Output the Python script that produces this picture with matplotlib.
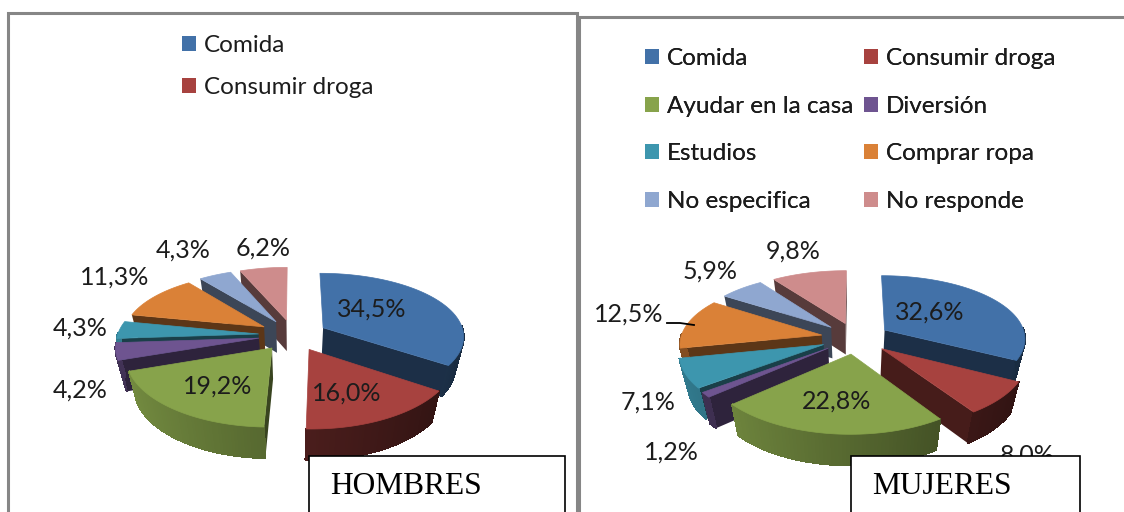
import numpy as np
import matplotlib
matplotlib.use('Agg')
import matplotlib.pyplot as plt
from matplotlib.patches import Patch, Polygon, Rectangle

### Data
categories = ['Comida', 'Consumir droga', 'Ayudar en la casa', 'Diversión',
              'Estudios', 'Comprar ropa', 'No especifica', 'No responde']
hombres = [34.5, 16.0, 19.2, 4.2, 4.3, 11.3, 4.3, 6.2]
mujeres = [32.6, 8.0, 22.8, 1.2, 7.1, 12.5, 5.9, 9.8]
colors = ['#4271a8', '#a7423f', '#87a34b', '#6e5490',
          '#3d96ae', '#da8137', '#8fa7d0', '#ce8c8c']
rim_gain = [1.1, 0.8, 1.15, 0.8, 1.1, 0.8, 0.8, 0.8]

### Layout of the percent labels, in pixels
pos_hombres = [(372, 309), (347, 393), (218, 386), (80, 390),
               (80, 328), (115, 277), (183, 250), (263, 248)]
pos_mujeres = [(930, 312), (1027, 455), (837, 401), (671, 452),
               (648, 402), (629, 314), (710, 271), (793, 251)]

FONT = 'Lato'
RX = 141.0
RY = 64.0
PERSP = 0.14
PERSP_X = 0.12
DEPTH = 31.0
EXPLODE = 0.245


def project(cx, cy, x, y, z=0.0):
    return (cx + RX * x / (1.0 + PERSP_X * y) * (1.0 - 0.05 * z),
            cy - RY * y / (1.0 + PERSP * y) + DEPTH * z)


def shade(color, f):
    return tuple(c * f for c in matplotlib.colors.to_rgb(color))


def draw_pie(ax, values, cx, cy, positions):
    # let pie work out the angles and the explode offsets
    tmp = plt.figure().add_subplot()
    wedges = tmp.pie(values, colors=colors, startangle=90, counterclock=False,
                     explode=[EXPLODE] * len(values), radius=1.0)[0]
    pieces = [(w.center[0], w.center[1], w.theta1, w.theta2, c, g)
              for w, c, g in zip(wedges, colors, rim_gain)]
    plt.close(tmp.figure)

    # back to front
    order = sorted(pieces, key=lambda p: -p[1])
    for x0, y0, t1, t2, c, g in order:
        th = np.radians(np.linspace(t1, t2, 60))
        xs = x0 + np.cos(th)
        ys = y0 + np.sin(th)
        top = [project(cx, cy, x0, y0)] + [project(cx, cy, a, b) for a, b in zip(xs, ys)]

        # radial walls
        for t, n in ((t1, t1 - 90), (t2, t2 + 90)):
            if np.sin(np.radians(n)) < 0:
                a = x0 + np.cos(np.radians(t))
                b = y0 + np.sin(np.radians(t))
                wall = [project(cx, cy, x0, y0), project(cx, cy, a, b),
                        project(cx, cy, a, b, 1), project(cx, cy, x0, y0, 1)]
                ax.add_patch(Polygon(wall, closed=True, fc=shade(c, 0.42), ec='none', zorder=2))

        # outer rim, shaded from left to right
        for i in range(len(th) - 1):
            if np.sin(th[i]) > 0.02 and np.sin(th[i + 1]) > 0.02:
                continue
            f = g * (0.55 - 0.2 * np.cos(th[i]))
            quad = [project(cx, cy, xs[i], ys[i]), project(cx, cy, xs[i + 1], ys[i + 1]),
                    project(cx, cy, xs[i + 1], ys[i + 1], 1), project(cx, cy, xs[i], ys[i], 1)]
            col = shade(c, f)
            ax.add_patch(Polygon(quad, closed=True, fc=col, ec=col, lw=0.8,
                                 antialiased=False, zorder=2))

        ax.add_patch(Polygon(top, closed=True, fc=c, ec=c, lw=0.5, zorder=2))

    for v, (px, py) in zip(values, positions):
        ax.text(px, py, ('%.1f%%' % v).replace('.', ','), ha='center', va='center',
                fontsize=18, family=FONT, color='#1c1c1c', zorder=3)


def make_legend(ax, n, ncol, x, y, spacing, colspacing):
    handles = [Patch(fc=colors[i], ec='none') for i in range(n)]
    # fill rows first like the original
    if ncol == 2:
        idx = list(range(0, n, 2)) + list(range(1, n, 2))
    else:
        idx = list(range(n))
    leg = ax.legend([handles[i] for i in idx], [categories[i] for i in idx], ncol=ncol,
                    loc='upper left', bbox_to_anchor=(x, y), bbox_transform=ax.transData,
                    frameon=False, handlelength=0.58, handleheight=0.58, handletextpad=0.33,
                    borderpad=0, borderaxespad=0, labelspacing=spacing, columnspacing=colspacing,
                    prop={'family': FONT, 'size': 17.5}, labelcolor='#1c1c1c')
    ax.add_artist(leg)


fig = plt.figure(figsize=(11.24, 5.12), dpi=100)
ax = fig.add_axes([0, 0, 1, 1])
ax.set_xlim(0, 1124)
ax.set_ylim(512, 0)
ax.axis('off')

### Panel frames
ax.add_patch(Rectangle((8, 13), 569, 520, fc='white', ec='#868686', lw=2.2, zorder=1))
ax.add_patch(Rectangle((579, 17), 560, 520, fc='white', ec='#868686', lw=2.2, zorder=1))

draw_pie(ax, hombres, 293, 335, pos_hombres)
draw_pie(ax, mujeres, 855.5, 338, pos_mujeres)

### Leader line of the 12,5% label
ax.plot([667, 680, 694], [323, 323, 325], color='black', lw=1.3, zorder=3)

make_legend(ax, 2, 1, 182, 35, 0.87, 0.3)
make_legend(ax, 8, 2, 645, 48, 1.1, 0.42)

### Text boxes
for x, w, name in ((309, 256, 'HOMBRES'), (851, 229, 'MUJERES')):
    ax.add_patch(Rectangle((x, 456), w, 70, fc='white', ec='black', lw=1.2, zorder=4))
    ax.text(x + 21, 487, name, ha='left', va='center', fontsize=22.7,
            family='Liberation Serif', color='black', zorder=5)

fig.savefig('out.png', dpi=100)
